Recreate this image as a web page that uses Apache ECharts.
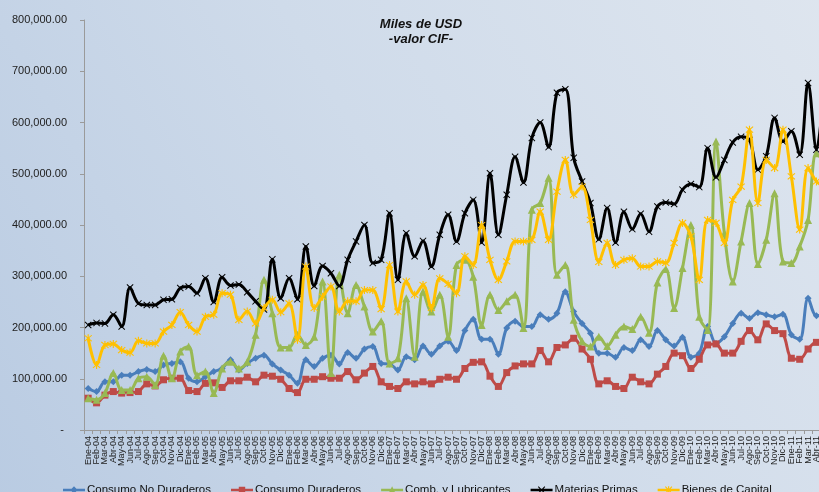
<!DOCTYPE html>
<html>
<head>
<meta charset="utf-8">
<script src="https://cdn.jsdelivr.net/npm/echarts@6/dist/echarts.min.js"></script>
<style>
  html, body { margin: 0; padding: 0; overflow: hidden; width: 819px; height: 492px; }
  #chart { width: 860px; height: 510px; }
</style>
</head>
<body>
<div id="chart"></div>
<script>
// Monthly imports by use category, thousands of USD (CIF value)
const months = [
  'Ene-04','Feb-04','Mar-04','Abr-04','May-04','Jun-04','Jul-04','Ago-04','Sep-04','Oct-04','Nov-04','Dic-04',
  'Ene-05','Feb-05','Mar-05','Abr-05','May-05','Jun-05','Jul-05','Ago-05','Sep-05','Oct-05','Nov-05','Dic-05',
  'Ene-06','Feb-06','Mar-06','Abr-06','May-06','Jun-06','Jul-06','Ago-06','Sep-06','Oct-06','Nov-06','Dic-06',
  'Ene-07','Feb-07','Mar-07','Abr-07','May-07','Jun-07','Jul-07','Ago-07','Sep-07','Oct-07','Nov-07','Dic-07',
  'Ene-08','Feb-08','Mar-08','Abr-08','May-08','Jun-08','Jul-08','Ago-08','Sep-08','Oct-08','Nov-08','Dic-08',
  'Ene-09','Feb-09','Mar-09','Abr-09','May-09','Jun-09','Jul-09','Ago-09','Sep-09','Oct-09','Nov-09','Dic-09',
  'Ene-10','Feb-10','Mar-10','Abr-10','May-10','Jun-10','Jul-10','Ago-10','Sep-10','Oct-10','Nov-10','Dic-10',
  'Ene-11','Feb-11','Mar-11','Abr-11','May-11'
];

const consumoNoDuraderos = [81,75,94,94,107,107,114,118,114,127,130,133,101,94,104,114,120,137,117,130,140,146,129,117,107,91,137,124,140,146,129,151,140,158,163,130,129,117,143,137,164,148,164,173,155,194,216,177,177,148,199,212,202,202,225,216,228,270,231,208,189,150,150,142,161,155,176,163,194,176,164,181,142,150,202,169,182,208,228,218,229,225,221,226,186,177,257,223,225];

const consumoDuraderos = [62,53,68,75,72,73,75,90,86,98,101,101,77,75,91,92,83,96,96,103,94,107,105,99,81,73,99,99,104,101,101,114,98,111,124,94,85,81,94,90,94,90,99,103,99,120,132,133,105,85,112,125,129,129,155,133,161,166,179,158,138,90,96,85,81,103,94,90,109,124,150,145,120,138,166,168,150,150,173,194,176,207,194,188,140,138,158,171,170];

const combLubricantes = [62,59,72,111,78,78,101,104,88,145,101,153,163,107,114,72,120,133,120,133,186,293,228,161,161,186,166,182,290,111,303,228,283,241,192,212,130,140,257,143,270,231,264,182,322,332,299,205,264,234,251,264,199,430,443,492,303,322,215,173,163,182,164,186,202,197,221,190,288,314,238,316,400,221,195,563,384,290,368,443,324,371,462,329,326,358,410,540,520];

const materiasPrimas = [205,209,208,225,202,278,247,244,244,254,255,277,280,267,296,250,298,282,284,269,251,235,333,257,296,255,358,281,320,306,281,332,368,400,326,332,423,293,384,339,369,319,381,420,368,423,449,366,501,381,459,533,483,570,600,552,658,665,531,485,443,372,433,366,426,392,422,387,436,444,441,469,480,474,550,493,527,561,572,566,508,534,609,563,583,537,677,547,690];

const bienesCapital = [179,127,166,168,156,151,174,169,169,192,205,230,205,192,221,225,267,264,215,231,208,238,254,230,247,176,319,238,260,280,231,251,251,273,273,236,322,231,290,264,283,238,296,285,267,339,322,400,332,293,329,368,368,371,426,371,465,527,459,475,410,328,365,322,332,335,319,319,329,326,365,404,378,293,410,404,365,449,475,586,443,527,511,586,495,391,511,485,475];

const seriesNames = ['Consumo No Duraderos','Consumo Duraderos','Comb. y Lubricantes','Materias Primas','Bienes de Capital'];
const seriesColors = ['#4a7ebb','#be4b48','#98b954','#000000','#ffc000'];

const yTicks = [0, 100000, 200000, 300000, 400000, 500000, 600000, 700000, 800000];

// marker shapes
const crossPath = 'path://M0,1L1,0L5,4L9,0L10,1L6,5L10,9L9,10L5,6L1,10L0,9L4,5Z';
const starPath = 'path://M0,1L1,0L5,4L9,0L10,1L6,5L10,9L9,10L5,6L1,10L0,9L4,5Z M4.3,-1L5.7,-1L5.7,11L4.3,11Z';
const symbols = ['diamond','rect','triangle', crossPath, starPath];
const symbolSizes = [7, 7, 8, 7, 8];
const seriesData = [consumoNoDuraderos, consumoDuraderos, combLubricantes, materiasPrimas, bienesCapital];

// legend icons: line segment with the series marker in the middle (box 24 x 8)
const legendLine = 'M0,2.6L24,2.6L24,5.4L0,5.4Z';
const legendIcons = [
  'path://' + legendLine + 'M12,0L16,4L12,8L8,4Z',
  'path://' + legendLine + 'M8.5,0.5L15.5,0.5L15.5,7.5L8.5,7.5Z',
  'path://' + legendLine + 'M12,0L16,8L8,8Z',
  'path://' + legendLine + 'M8,0.8L8.8,0L12,3.2L15.2,0L16,0.8L12.8,4L16,7.2L15.2,8L12,4.8L8.8,8L8,7.2L11.2,4Z',
  'path://' + legendLine + 'M8,0.8L8.8,0L12,3.2L15.2,0L16,0.8L12.8,4L16,7.2L15.2,8L12,4.8L8.8,8L8,7.2L11.2,4Z M11.4,0L12.6,0L12.6,8L11.4,8Z'
];

function fmtAxis(v) {
  if (v === 0) return '- ';
  return v.toLocaleString('en-US', { minimumFractionDigits: 2, maximumFractionDigits: 2 });
}

const chart = echarts.init(document.getElementById('chart'), null, { renderer: 'canvas' });

chart.setOption({
  animation: false,
  backgroundColor: {
    type: 'linear', x: 0, y: 1, x2: 1, y2: 0,
    colorStops: [
      { offset: 0, color: '#b9cbe2' },
      { offset: 0.5, color: '#cfdbea' },
      { offset: 1, color: '#dfe6ef' }
    ]
  },
  title: {
    text: 'Miles de USD\n-valor CIF-',
    left: 416,
    top: 12,
    textAlign: 'center',
    textStyle: {
      fontFamily: 'Liberation Sans, Arial, sans-serif',
      fontSize: 13,
      fontWeight: 'bold',
      fontStyle: 'italic',
      color: '#111',
      lineHeight: 15
    }
  },
  legend: {
    left: 63,
    top: 484,
    padding: 0,
    itemWidth: 22,
    itemHeight: 8,
    itemGap: 20,
    textStyle: { fontFamily: 'Liberation Sans, Arial, sans-serif', fontSize: 11.5, color: '#111', padding: [0, 0, 0, -3] },
    data: seriesNames.map((name, k) => ({
      name: name,
      icon: legendIcons[k],
      itemStyle: { color: seriesColors[k], borderWidth: 0 }
    }))
  },
  grid: { left: 84, top: 20, width: 745, height: 410, containLabel: false },
  xAxis: {
    type: 'category',
    data: months,
    boundaryGap: true,
    axisLine: { lineStyle: { color: '#9a9a9a', width: 1 } },
    axisTick: { show: true, interval: 0, length: 4, lineStyle: { color: '#9a9a9a' } },
    axisLabel: {
      interval: 0,
      rotate: 90,
      margin: 6,
      fontFamily: 'Liberation Sans, Arial, sans-serif',
      fontSize: 9,
      color: '#222'
    },
    splitLine: { show: false }
  },
  yAxis: {
    type: 'value',
    min: yTicks[0],
    max: yTicks[yTicks.length - 1],
    interval: 100000,
    axisLine: { show: true, lineStyle: { color: '#9a9a9a', width: 1 } },
    axisTick: { show: true, length: 4, lineStyle: { color: '#9a9a9a' } },
    axisLabel: {
      margin: 17,
      fontFamily: 'Liberation Sans, Arial, sans-serif',
      fontSize: 11,
      color: '#222',
      formatter: fmtAxis
    },
    splitLine: { show: false }
  },
  series: seriesNames.map((name, k) => ({
    name: name,
    type: 'line',
    data: seriesData[k].map(v => v * 1000),
    smooth: 0.35,
    symbol: symbols[k],
    symbolSize: symbolSizes[k],
    showAllSymbol: true,
    lineStyle: { color: seriesColors[k], width: 3 },
    itemStyle: { color: seriesColors[k] },
    emphasis: { disabled: true },
    z: 2 + k
  }))
});
</script>
</body>
</html>
